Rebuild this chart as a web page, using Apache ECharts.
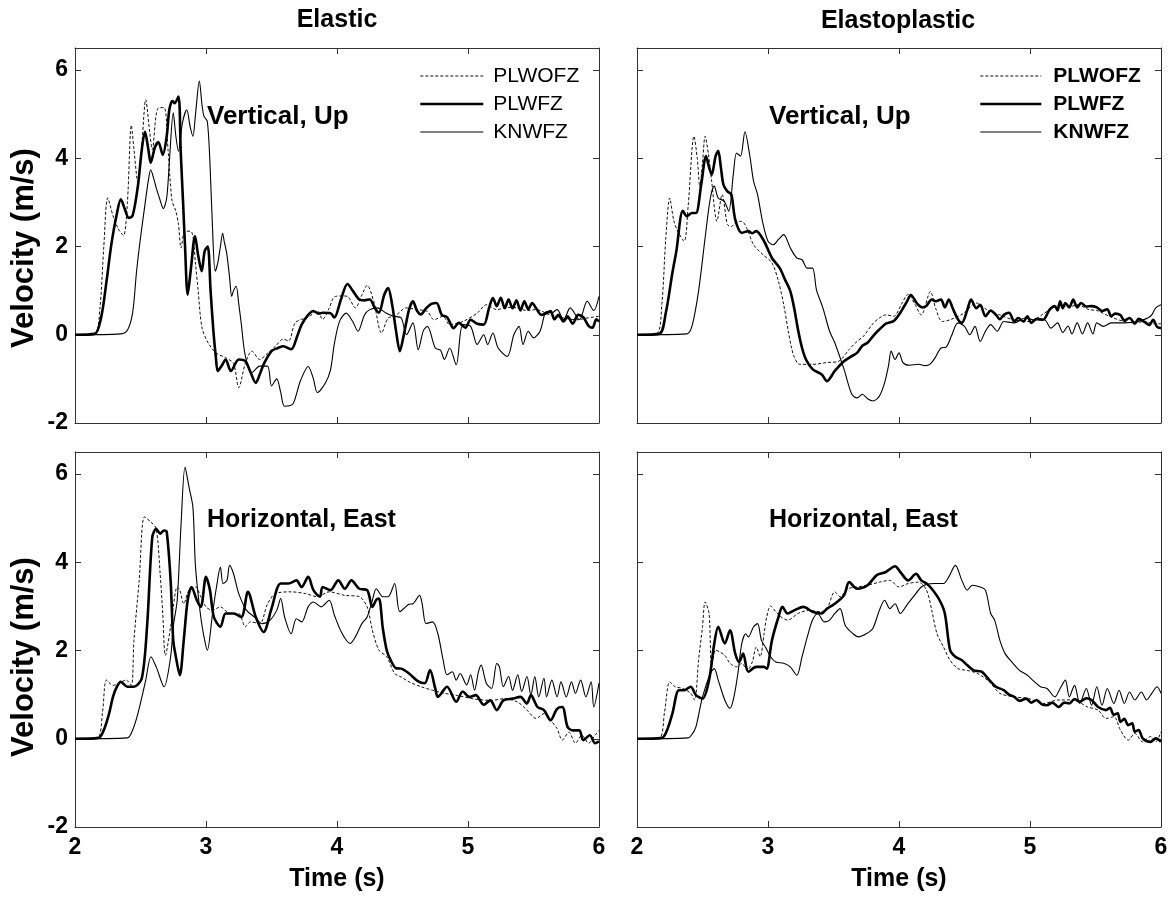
<!DOCTYPE html>
<html>
<head>
<meta charset="utf-8">
<script src="https://cdn.jsdelivr.net/npm/echarts@6/dist/echarts.min.js"></script>
<style>
html,body{margin:0;padding:0;background:#fff;}
#chart{width:1175px;height:901px;}
</style>
</head>
<body>
<div id="chart"></div>
<script>
// ---------- DATA ----------
const seriesNames = ['PLWOFZ', 'PLWFZ', 'KNWFZ'];
const panelTitles = ['Elastic', 'Elastoplastic'];
const panelLabels = ['Vertical, Up', 'Horizontal, East'];
const timeRange = [2, 6];
const velocityRange = [-2, 6.5];
const timeStep = 1;
const velocityStep = 2;

// Elastic, vertical up
const elasticVertPLWOFZ = [[2,0],[2.15,0.02],[2.19,0.6],[2.22,2.0],[2.25,3.1],[2.29,2.7],[2.33,2.4],[2.37,2.25],[2.40,3.0],[2.43,4.75],[2.45,4.2],[2.48,3.45],[2.51,4.3],[2.54,5.33],[2.57,4.6],[2.59,4.2],[2.63,5.12],[2.68,5.15],[2.71,4.2],[2.74,3.05],[2.77,2.8],[2.79,2.5],[2.81,1.97],[2.84,2.35],[2.89,2.33],[2.92,1.6],[2.94,1.0],[2.97,0.15],[3.02,-0.2],[3.08,-0.42],[3.15,-0.52],[3.21,-0.65],[3.25,-1.2],[3.30,-0.65],[3.35,-0.37],[3.41,-0.56],[3.47,-0.42],[3.53,-0.26],[3.59,-0.1],[3.63,-0.14],[3.68,0.27],[3.73,0.35],[3.79,0.42],[3.85,0.54],[3.89,0.35],[3.94,0.6],[3.98,0.86],[4.04,0.88],[4.08,0.87],[4.14,0.61],[4.19,0.9],[4.23,1.12],[4.28,0.76],[4.34,0.04],[4.39,0.38],[4.44,0.42],[4.53,0.61],[4.61,0.57],[4.69,0.53],[4.74,0.34],[4.81,0.42],[4.86,0.23],[4.96,0.3],[5.07,0.49],[5.14,0.68],[5.22,0.57],[5.30,0.62],[5.37,0.61],[5.45,0.55],[5.52,0.57],[5.62,0.46],[5.73,0.38],[5.83,0.34],[5.91,0.38],[6.0,0.42]];
const elasticVertPLWFZ = [[2,0],[2.15,0.02],[2.2,0.4],[2.24,1.2],[2.28,2.1],[2.32,2.75],[2.35,3.07],[2.38,2.85],[2.41,2.65],[2.44,2.7],[2.48,3.37],[2.51,4.2],[2.534,4.6],[2.56,4.2],[2.578,3.9],[2.61,4.25],[2.636,4.37],[2.67,4.08],[2.70,4.5],[2.72,5.1],[2.743,5.3],[2.76,5.25],[2.79,5.4],[2.807,4.15],[2.825,3.0],[2.84,2.0],[2.86,0.91],[2.885,1.5],[2.916,2.24],[2.94,1.8],[2.967,1.44],[2.99,1.9],[3.013,2.0],[3.035,1.0],[3.056,0.1],[3.075,-0.5],[3.09,-0.82],[3.12,-0.7],[3.15,-0.56],[3.19,-0.82],[3.25,-0.56],[3.30,-0.6],[3.34,-0.85],[3.38,-1.09],[3.41,-0.9],[3.44,-0.67],[3.50,-0.37],[3.55,-0.3],[3.59,-0.26],[3.65,-0.33],[3.70,0.0],[3.73,0.23],[3.78,0.45],[3.82,0.54],[3.86,0.48],[3.89,0.5],[3.95,0.49],[3.98,0.39],[4.03,0.8],[4.08,1.15],[4.12,1.0],[4.17,0.8],[4.21,0.78],[4.25,0.8],[4.29,0.6],[4.32,0.5],[4.36,0.9],[4.39,1.06],[4.42,0.7],[4.45,0.1],[4.48,-0.37],[4.51,0.0],[4.55,0.57],[4.58,0.76],[4.61,0.55],[4.64,0.46],[4.68,0.6],[4.72,0.7],[4.76,0.72],[4.80,0.45],[4.84,0.4],[4.89,0.15],[4.93,0.27],[4.98,0.16],[5.02,0.34],[5.07,0.25],[5.12,0.23],[5.16,0.6],[5.19,0.83],[5.22,0.65],[5.25,0.84],[5.28,0.6],[5.31,0.8],[5.34,0.6],[5.37,0.78],[5.40,0.55],[5.43,0.76],[5.46,0.58],[5.49,0.72],[5.52,0.6],[5.56,0.45],[5.60,0.49],[5.63,0.54],[5.66,0.35],[5.69,0.45],[5.73,0.3],[5.76,0.42],[5.80,0.25],[5.84,0.45],[5.88,0.4],[5.92,0.2],[5.95,0.16],[5.98,0.35],[6.0,0.3]];
const elasticVertKNWFZ = [[2,0],[2.35,0.02],[2.40,0.1],[2.44,0.5],[2.47,1.44],[2.50,2.2],[2.534,2.95],[2.56,3.5],[2.578,3.74],[2.60,3.55],[2.62,3.33],[2.65,3.05],[2.674,2.86],[2.70,3.1],[2.72,3.9],[2.75,5.03],[2.77,4.5],[2.79,4.16],[2.82,4.8],[2.853,5.1],[2.88,4.7],[2.90,4.5],[2.92,5.0],[2.949,5.75],[2.97,5.2],[2.985,4.95],[3.01,4.84],[3.03,3.9],[3.05,2.4],[3.07,1.44],[3.09,1.63],[3.11,2.0],[3.127,2.3],[3.14,2.1],[3.158,1.85],[3.18,1.3],[3.196,0.87],[3.21,1.0],[3.23,1.1],[3.25,0.7],[3.27,0.23],[3.29,-0.3],[3.31,-0.6],[3.35,-0.86],[3.41,-0.71],[3.47,-0.71],[3.50,-1.16],[3.54,-1.0],[3.57,-1.3],[3.60,-1.62],[3.66,-1.58],[3.69,-1.35],[3.72,-1.05],[3.78,-0.72],[3.82,-1.0],[3.85,-1.31],[3.91,-1.1],[3.95,-0.8],[3.98,-0.2],[4.02,0.31],[4.07,0.49],[4.12,0.3],[4.16,0.08],[4.21,0.45],[4.25,0.57],[4.31,0.61],[4.37,0.5],[4.43,0.42],[4.49,0.38],[4.53,0.0],[4.58,0.27],[4.62,-0.34],[4.66,0.1],[4.69,0.19],[4.75,-0.3],[4.79,-0.35],[4.82,-0.56],[4.86,-0.3],[4.91,-0.68],[4.96,0.23],[5.02,0.19],[5.07,-0.22],[5.12,0.0],[5.15,-0.22],[5.19,0.04],[5.23,-0.3],[5.30,-0.49],[5.35,0.0],[5.39,0.19],[5.42,-0.22],[5.46,0.08],[5.50,-0.07],[5.55,0.08],[5.60,0.53],[5.64,0.5],[5.68,0.57],[5.73,0.34],[5.78,0.61],[5.85,0.34],[5.91,0.76],[5.96,0.55],[6.0,0.87]];

// Elastoplastic, vertical up
const plasticVertPLWOFZ = [[2,0],[2.15,0.02],[2.19,0.7],[2.22,2.2],[2.25,3.1],[2.28,2.6],[2.31,2.35],[2.36,2.12],[2.39,2.9],[2.435,4.5],[2.46,4.0],[2.48,3.35],[2.50,3.9],[2.52,4.5],[2.545,4.1],[2.57,3.48],[2.61,2.57],[2.65,3.18],[2.69,2.5],[2.72,2.45],[2.75,2.54],[2.80,2.57],[2.84,2.4],[2.89,2.04],[2.96,1.82],[3.03,1.63],[3.08,1.21],[3.12,0.68],[3.155,0.08],[3.18,-0.3],[3.20,-0.5],[3.24,-0.67],[3.34,-0.67],[3.45,-0.63],[3.54,-0.6],[3.62,-0.33],[3.68,-0.15],[3.73,-0.03],[3.80,0.25],[3.85,0.38],[3.90,0.45],[3.96,0.42],[4.02,0.7],[4.07,0.92],[4.12,0.7],[4.17,0.45],[4.24,0.98],[4.28,0.6],[4.33,0.3],[4.39,0.34],[4.49,0.48],[4.59,0.72],[4.67,0.57],[4.77,0.45],[4.87,0.34],[5.0,0.3],[5.1,0.47],[5.21,0.66],[5.30,0.63],[5.36,0.68],[5.45,0.57],[5.51,0.55],[5.62,0.4],[5.72,0.3],[5.80,0.27],[5.87,0.3],[5.94,0.25],[6.0,0.25]];
const plasticVertPLWFZ = [[2,0],[2.17,0.02],[2.22,0.5],[2.27,1.4],[2.30,1.89],[2.35,2.81],[2.38,2.69],[2.42,2.76],[2.45,2.76],[2.49,3.4],[2.527,4.05],[2.55,3.8],[2.57,3.63],[2.60,4.05],[2.62,4.17],[2.64,3.8],[2.66,3.4],[2.69,3.25],[2.72,3.18],[2.75,2.61],[2.80,2.31],[2.85,2.35],[2.88,2.3],[2.91,2.35],[2.97,2.12],[3.03,1.74],[3.09,1.51],[3.13,1.25],[3.17,0.99],[3.20,0.6],[3.23,0.1],[3.26,-0.3],[3.29,-0.56],[3.34,-0.78],[3.41,-0.9],[3.45,-1.05],[3.51,-0.82],[3.58,-0.6],[3.63,-0.5],[3.68,-0.41],[3.72,-0.25],[3.76,-0.18],[3.81,0.0],[3.85,0.12],[3.90,0.25],[3.96,0.31],[4.01,0.5],[4.06,0.75],[4.09,0.9],[4.14,0.7],[4.18,0.62],[4.21,0.66],[4.25,0.8],[4.28,0.76],[4.32,0.8],[4.35,0.62],[4.38,0.8],[4.41,0.6],[4.45,0.35],[4.48,0.27],[4.52,0.55],[4.55,0.8],[4.59,0.6],[4.62,0.68],[4.66,0.42],[4.70,0.55],[4.74,0.45],[4.77,0.35],[4.80,0.45],[4.84,0.5],[4.88,0.3],[4.91,0.38],[4.95,0.3],[4.98,0.42],[5.01,0.27],[5.05,0.36],[5.10,0.34],[5.15,0.57],[5.19,0.65],[5.21,0.55],[5.23,0.76],[5.25,0.6],[5.27,0.72],[5.30,0.62],[5.33,0.8],[5.36,0.62],[5.39,0.72],[5.43,0.64],[5.47,0.65],[5.51,0.62],[5.55,0.54],[5.59,0.58],[5.62,0.42],[5.65,0.48],[5.69,0.45],[5.72,0.32],[5.76,0.38],[5.80,0.25],[5.83,0.36],[5.87,0.3],[5.91,0.22],[5.94,0.34],[5.97,0.18],[6.0,0.15]];
const plasticVertKNWFZ = [[2,0],[2.38,0.02],[2.42,0.2],[2.47,0.99],[2.52,2.2],[2.56,3.1],[2.59,3.37],[2.62,3.1],[2.665,3.03],[2.70,2.8],[2.735,3.63],[2.76,4.12],[2.79,4.05],[2.824,4.6],[2.86,4.08],[2.89,3.48],[2.92,3.18],[2.96,2.54],[3.0,2.12],[3.04,2.04],[3.08,2.16],[3.12,2.27],[3.17,1.97],[3.22,1.74],[3.26,1.7],[3.30,1.51],[3.34,1.51],[3.37,1.02],[3.42,0.6],[3.47,0.08],[3.51,-0.18],[3.58,-0.78],[3.64,-1.35],[3.68,-1.43],[3.72,-1.35],[3.76,-1.45],[3.80,-1.5],[3.85,-1.39],[3.89,-1.09],[3.92,-0.7],[3.94,-0.37],[3.97,-0.56],[4.0,-0.41],[4.03,-0.63],[4.08,-0.69],[4.15,-0.67],[4.2,-0.7],[4.24,-0.66],[4.28,-0.5],[4.32,-0.3],[4.36,-0.28],[4.40,-0.03],[4.45,0.27],[4.5,0.19],[4.54,0.0],[4.58,0.19],[4.62,-0.15],[4.66,0.08],[4.70,0.23],[4.75,0.08],[4.80,0.3],[4.88,0.27],[4.96,0.38],[5.03,0.34],[5.11,0.34],[5.16,0.15],[5.21,0.27],[5.25,0.05],[5.29,0.2],[5.32,0.02],[5.36,0.27],[5.40,0.02],[5.44,0.27],[5.48,0.02],[5.51,0.27],[5.56,0.19],[5.62,0.27],[5.72,0.27],[5.82,0.3],[5.92,0.42],[5.96,0.61],[6.0,0.68]];

// Elastic, horizontal east
const elasticEastPLWOFZ = [[2,0],[2.17,0.02],[2.21,0.6],[2.24,1.33],[2.29,1.21],[2.33,1.25],[2.39,1.33],[2.43,1.21],[2.45,2.23],[2.49,3.59],[2.53,5.03],[2.58,4.91],[2.62,4.76],[2.65,3.74],[2.67,2.84],[2.69,1.89],[2.73,2.54],[2.75,2.99],[2.78,3.44],[2.80,3.37],[2.83,3.06],[2.87,3.37],[2.92,3.44],[2.96,3.22],[3.0,2.99],[3.05,2.91],[3.11,2.99],[3.18,2.84],[3.25,2.84],[3.30,2.54],[3.34,2.65],[3.41,2.61],[3.47,3.06],[3.53,3.29],[3.65,3.33],[3.76,3.29],[3.85,3.22],[3.94,3.33],[4.06,3.25],[4.17,3.22],[4.23,2.99],[4.27,2.46],[4.32,2.01],[4.38,1.86],[4.44,1.48],[4.49,1.4],[4.55,1.29],[4.64,1.18],[4.73,1.1],[4.82,1.03],[4.92,0.98],[5.05,0.9],[5.18,0.87],[5.28,0.91],[5.38,0.83],[5.45,0.65],[5.52,0.46],[5.58,0.57],[5.63,0.42],[5.68,0.23],[5.72,-0.03],[5.77,0.15],[5.82,-0.1],[5.87,0.08],[5.92,-0.1],[5.97,0.08],[6.0,0.19]];
const elasticEastPLWFZ = [[2,0],[2.18,0.02],[2.22,0.2],[2.26,0.57],[2.29,0.95],[2.32,1.18],[2.35,1.29],[2.40,1.18],[2.45,1.18],[2.51,1.37],[2.55,2.54],[2.59,4.57],[2.62,4.76],[2.65,4.65],[2.68,4.72],[2.70,4.69],[2.73,3.59],[2.75,2.23],[2.77,1.86],[2.80,1.44],[2.83,2.23],[2.86,3.14],[2.89,3.44],[2.93,3.14],[2.96,2.99],[3.0,3.67],[3.03,3.37],[3.06,2.76],[3.11,2.54],[3.15,2.84],[3.21,2.84],[3.27,2.76],[3.32,3.33],[3.38,2.76],[3.44,2.42],[3.50,2.95],[3.57,3.52],[3.63,3.52],[3.69,3.59],[3.73,3.44],[3.78,3.67],[3.82,3.37],[3.87,3.22],[3.89,3.44],[3.95,3.37],[4.01,3.59],[4.06,3.4],[4.11,3.59],[4.17,3.4],[4.23,3.37],[4.27,2.99],[4.30,3.15],[4.32,3.18],[4.35,2.5],[4.38,2.0],[4.41,1.78],[4.45,1.6],[4.49,1.59],[4.55,1.48],[4.62,1.3],[4.67,1.26],[4.71,1.56],[4.75,1.14],[4.77,0.95],[4.84,1.18],[4.91,0.84],[4.96,1.07],[5.01,0.95],[5.06,0.99],[5.12,0.77],[5.17,0.87],[5.22,0.65],[5.27,0.87],[5.34,0.91],[5.40,0.95],[5.45,0.8],[5.48,0.99],[5.53,0.72],[5.58,0.65],[5.63,0.42],[5.68,0.68],[5.72,0.72],[5.76,0.27],[5.80,0.19],[5.85,0.19],[5.88,-0.03],[5.93,0.08],[5.97,-0.1],[6.0,-0.06]];
const elasticEastKNWFZ = [[2,0],[2.40,0.02],[2.44,0.2],[2.48,0.57],[2.54,1.33],[2.58,1.86],[2.62,1.63],[2.68,1.18],[2.73,1.86],[2.75,2.54],[2.78,3.14],[2.81,4.88],[2.84,6.16],[2.87,5.71],[2.90,5.25],[2.92,3.89],[2.96,2.76],[2.99,2.23],[3.01,2.01],[3.05,2.84],[3.08,3.44],[3.11,3.89],[3.13,3.52],[3.16,3.59],[3.18,3.93],[3.21,3.74],[3.25,3.29],[3.31,2.91],[3.37,2.76],[3.43,2.61],[3.49,2.69],[3.54,2.91],[3.57,3.18],[3.60,2.76],[3.65,2.38],[3.69,2.72],[3.73,2.65],[3.78,2.99],[3.82,3.1],[3.88,2.99],[3.94,3.14],[3.98,2.8],[4.04,2.38],[4.10,2.16],[4.14,2.31],[4.19,2.61],[4.23,2.76],[4.27,3.14],[4.30,3.4],[4.35,3.22],[4.39,3.22],[4.44,3.52],[4.48,2.88],[4.55,3.05],[4.58,3.06],[4.63,3.25],[4.65,3.06],[4.68,2.61],[4.73,2.65],[4.77,2.38],[4.81,1.79],[4.84,1.45],[4.88,1.52],[4.91,1.33],[4.94,1.48],[4.99,1.22],[5.02,1.45],[5.05,1.1],[5.08,1.52],[5.10,1.67],[5.14,1.26],[5.18,1.14],[5.22,1.71],[5.24,1.63],[5.27,1.18],[5.31,1.41],[5.34,1.1],[5.38,1.45],[5.41,1.07],[5.45,1.41],[5.48,0.99],[5.51,1.41],[5.54,0.95],[5.58,1.37],[5.60,0.95],[5.64,1.33],[5.68,0.95],[5.71,1.29],[5.75,0.95],[5.79,1.29],[5.82,1.03],[5.86,1.33],[5.90,0.95],[5.94,1.29],[5.96,0.72],[6.0,1.26]];

// Elastoplastic, horizontal east
const plasticEastPLWOFZ = [[2,0],[2.17,0.02],[2.21,0.6],[2.25,1.29],[2.29,1.18],[2.35,1.14],[2.41,1.03],[2.44,0.88],[2.47,1.78],[2.50,2.54],[2.52,3.1],[2.55,2.84],[2.57,1.63],[2.60,2.01],[2.63,1.97],[2.67,1.89],[2.71,1.71],[2.76,1.63],[2.80,1.71],[2.84,1.55],[2.88,1.74],[2.91,2.08],[2.94,1.86],[2.97,2.38],[2.99,2.76],[3.02,3.01],[3.06,2.88],[3.10,2.76],[3.15,2.69],[3.23,2.84],[3.31,2.91],[3.40,2.88],[3.45,2.95],[3.51,3.33],[3.55,3.22],[3.61,3.4],[3.68,3.44],[3.76,3.48],[3.85,3.55],[3.93,3.59],[4.0,3.44],[4.07,3.52],[4.15,3.55],[4.21,3.37],[4.25,2.91],[4.29,2.38],[4.34,2.08],[4.39,1.78],[4.45,1.59],[4.52,1.55],[4.60,1.48],[4.69,1.29],[4.77,1.03],[4.88,0.95],[4.99,0.91],[5.10,0.8],[5.22,0.88],[5.33,0.88],[5.44,0.72],[5.52,0.65],[5.58,0.46],[5.64,0.5],[5.69,0.2],[5.75,-0.03],[5.80,0.12],[5.86,-0.07],[5.92,0.05],[5.96,-0.07],[6.0,0.16]];
const plasticEastPLWFZ = [[2,0],[2.19,0.02],[2.23,0.2],[2.27,0.57],[2.32,1.1],[2.36,1.1],[2.41,1.18],[2.45,0.99],[2.50,0.91],[2.55,1.33],[2.59,2.16],[2.62,2.54],[2.67,2.16],[2.71,2.46],[2.75,1.93],[2.78,1.74],[2.81,1.93],[2.85,1.52],[2.91,1.63],[2.97,1.63],[2.99,1.59],[3.03,2.23],[3.08,2.76],[3.11,2.99],[3.15,2.84],[3.20,2.91],[3.27,2.99],[3.34,2.88],[3.41,2.84],[3.45,2.95],[3.51,3.06],[3.58,3.25],[3.62,3.55],[3.68,3.4],[3.76,3.48],[3.83,3.71],[3.90,3.78],[3.97,3.91],[4.01,3.78],[4.07,3.59],[4.13,3.74],[4.17,3.59],[4.21,3.52],[4.25,3.4],[4.31,3.14],[4.35,2.84],[4.39,2.01],[4.43,1.86],[4.48,1.78],[4.52,1.67],[4.57,1.55],[4.63,1.52],[4.69,1.33],[4.74,1.18],[4.80,1.1],[4.84,1.0],[4.88,0.95],[4.92,0.86],[4.97,0.91],[5.01,0.82],[5.05,0.88],[5.09,0.78],[5.13,0.76],[5.17,0.82],[5.22,0.72],[5.26,0.82],[5.30,0.8],[5.34,0.9],[5.38,0.84],[5.43,0.92],[5.47,0.88],[5.52,0.72],[5.58,0.65],[5.61,0.7],[5.64,0.54],[5.67,0.58],[5.69,0.38],[5.72,0.45],[5.75,0.31],[5.78,0.35],[5.80,0.16],[5.83,0.2],[5.86,0.01],[5.92,-0.07],[5.96,0.01],[6.0,-0.07]];
const plasticEastKNWFZ = [[2,0],[2.39,0.02],[2.42,0.1],[2.45,0.27],[2.50,0.95],[2.56,1.48],[2.59,1.59],[2.62,1.33],[2.67,0.88],[2.71,0.69],[2.74,0.95],[2.77,1.48],[2.80,2.16],[2.83,2.38],[2.85,2.31],[2.89,2.54],[2.92,2.61],[2.95,2.23],[2.98,2.08],[3.02,1.86],[3.06,1.74],[3.12,1.71],[3.17,1.63],[3.22,1.44],[3.26,1.86],[3.30,2.31],[3.34,2.69],[3.38,2.84],[3.43,2.65],[3.47,2.69],[3.51,2.84],[3.55,2.95],[3.59,2.57],[3.65,2.38],[3.69,2.31],[3.75,2.38],[3.80,2.5],[3.85,2.91],[3.89,3.14],[3.93,2.95],[3.97,3.06],[4.01,2.84],[4.06,3.03],[4.11,3.22],[4.17,3.44],[4.21,3.5],[4.27,3.52],[4.34,3.52],[4.38,3.67],[4.43,3.93],[4.48,3.59],[4.52,3.37],[4.56,3.48],[4.62,3.44],[4.66,3.37],[4.70,2.84],[4.73,2.69],[4.77,2.23],[4.81,1.93],[4.87,1.71],[4.92,1.55],[4.98,1.44],[5.02,1.33],[5.08,1.18],[5.13,1.14],[5.19,0.95],[5.23,1.14],[5.27,1.33],[5.30,0.95],[5.34,1.21],[5.38,0.8],[5.43,1.14],[5.47,0.76],[5.51,1.18],[5.55,0.76],[5.59,1.14],[5.64,0.8],[5.68,1.1],[5.72,0.8],[5.76,1.06],[5.80,0.88],[5.85,1.06],[5.89,0.88],[5.93,1.03],[5.97,1.18],[6.0,1.03]];

// ---------- CHART ----------
const FONT = '"Liberation Sans", Arial, Helvetica, sans-serif';
const panels = [
  { grid: { left: 75, top: 48, width: 524, height: 375 }, data: [elasticVertPLWOFZ, elasticVertPLWFZ, elasticVertKNWFZ], xLabels: false, yLabels: true },
  { grid: { left: 637, top: 48, width: 524, height: 375 }, data: [plasticVertPLWOFZ, plasticVertPLWFZ, plasticVertKNWFZ], xLabels: false, yLabels: false },
  { grid: { left: 75, top: 452, width: 524, height: 375 }, data: [elasticEastPLWOFZ, elasticEastPLWFZ, elasticEastKNWFZ], xLabels: true, yLabels: true },
  { grid: { left: 637, top: 452, width: 524, height: 375 }, data: [plasticEastPLWOFZ, plasticEastPLWFZ, plasticEastKNWFZ], xLabels: true, yLabels: false }
];
const lineStyles = [
  { color: '#111', width: 1, type: [3, 2] },
  { color: '#000', width: 2.6, type: 'solid' },
  { color: '#000', width: 1.1, type: 'solid' }
];
const axisLineStyle = { color: '#333', width: 1 };
const tickLabelStyle = { fontSize: 23, fontWeight: 'bold', color: '#000', fontFamily: FONT };

const grids = [], xAxes = [], yAxes = [], series = [];
panels.forEach((p, i) => {
  grids.push(Object.assign({ containLabel: false }, p.grid));
  ['bottom', 'top'].forEach((pos, k) => {
    xAxes.push({
      gridIndex: i, type: 'value', position: pos,
      min: timeRange[0], max: timeRange[1], interval: timeStep,
      axisLine: { show: true, onZero: false, lineStyle: axisLineStyle },
      axisTick: { show: true, inside: true, length: 6, lineStyle: axisLineStyle },
      axisLabel: Object.assign({ show: p.xLabels && k === 0, margin: 9 }, tickLabelStyle),
      splitLine: { show: false },
      name: (p.xLabels && k === 0) ? 'Time (s)' : '',
      nameLocation: 'middle', nameGap: 40,
      nameTextStyle: { fontSize: 25, fontWeight: 'bold', color: '#000', fontFamily: FONT }
    });
  });
  ['left', 'right'].forEach((pos, k) => {
    yAxes.push({
      gridIndex: i, type: 'value', position: pos,
      min: velocityRange[0], max: velocityRange[1], interval: velocityStep,
      axisLine: { show: true, onZero: false, lineStyle: axisLineStyle },
      axisTick: { show: true, inside: true, length: 6, lineStyle: axisLineStyle },
      axisLabel: Object.assign({ show: p.yLabels && k === 0, margin: 7, showMaxLabel: false }, tickLabelStyle),
      splitLine: { show: false }
    });
  });
  seriesNames.forEach((name, s) => {
    series.push({
      name: name, type: 'line',
      xAxisIndex: i * 2, yAxisIndex: i * 2,
      data: p.data[s],
      symbol: 'none', showSymbol: false,
      smooth: 0.3,
      lineStyle: lineStyles[s],
      itemStyle: { color: lineStyles[s].color },
      emphasis: { disabled: true },
      z: s === 1 ? 4 : 3
    });
  });
});

const legendBase = {
  orient: 'vertical', data: seriesNames, selectedMode: false,
  padding: 0, itemGap: 6, itemHeight: 14,
  inactiveColor: '#000',
  itemStyle: { opacity: 0 },
  lineStyle: { width: 'inherit', type: 'inherit', color: 'inherit' }
};
const legends = [
  Object.assign({}, legendBase, { left: 419, top: 65, itemWidth: 63,
    textStyle: { fontSize: 21, fontWeight: 'normal', color: '#000', fontFamily: FONT, lineHeight: 22, padding: [0, 0, 0, 5] } }),
  Object.assign({}, legendBase, { left: 979, top: 65, itemWidth: 61,
    textStyle: { fontSize: 21, fontWeight: 'bold', color: '#000', fontFamily: FONT, lineHeight: 22, padding: [0, 0, 0, 7] } })
];

function txt(text, x, y, size, align, rot) {
  return {
    type: 'text', x: x, y: y, rotation: rot || 0, z: 100,
    style: { text: text, fill: '#000', font: 'bold ' + size + 'px ' + FONT, textAlign: align, textVerticalAlign: 'middle' }
  };
}

const graphics = [
  txt(panelTitles[0], 337, 20, 25, 'center'),
  txt(panelTitles[1], 898, 21, 25, 'center'),
  txt(panelLabels[0], 207, 117, 26, 'left'),
  txt(panelLabels[0], 769, 117, 26, 'left'),
  txt(panelLabels[1], 207, 520, 25, 'left'),
  txt(panelLabels[1], 769, 520, 25, 'left'),
  txt('Velocity (m/s)', 24, 248, 31, 'center', Math.PI / 2),
  txt('Velocity (m/s)', 24, 657, 31, 'center', Math.PI / 2)
];

const chart = echarts.init(document.getElementById('chart'), null, { renderer: 'canvas' });
chart.setOption({
  animation: false,
  backgroundColor: '#fff',
  textStyle: { fontFamily: FONT },
  grid: grids,
  xAxis: xAxes,
  yAxis: yAxes,
  legend: legends,
  series: series,
  graphic: graphics
});
</script>
</body>
</html>
